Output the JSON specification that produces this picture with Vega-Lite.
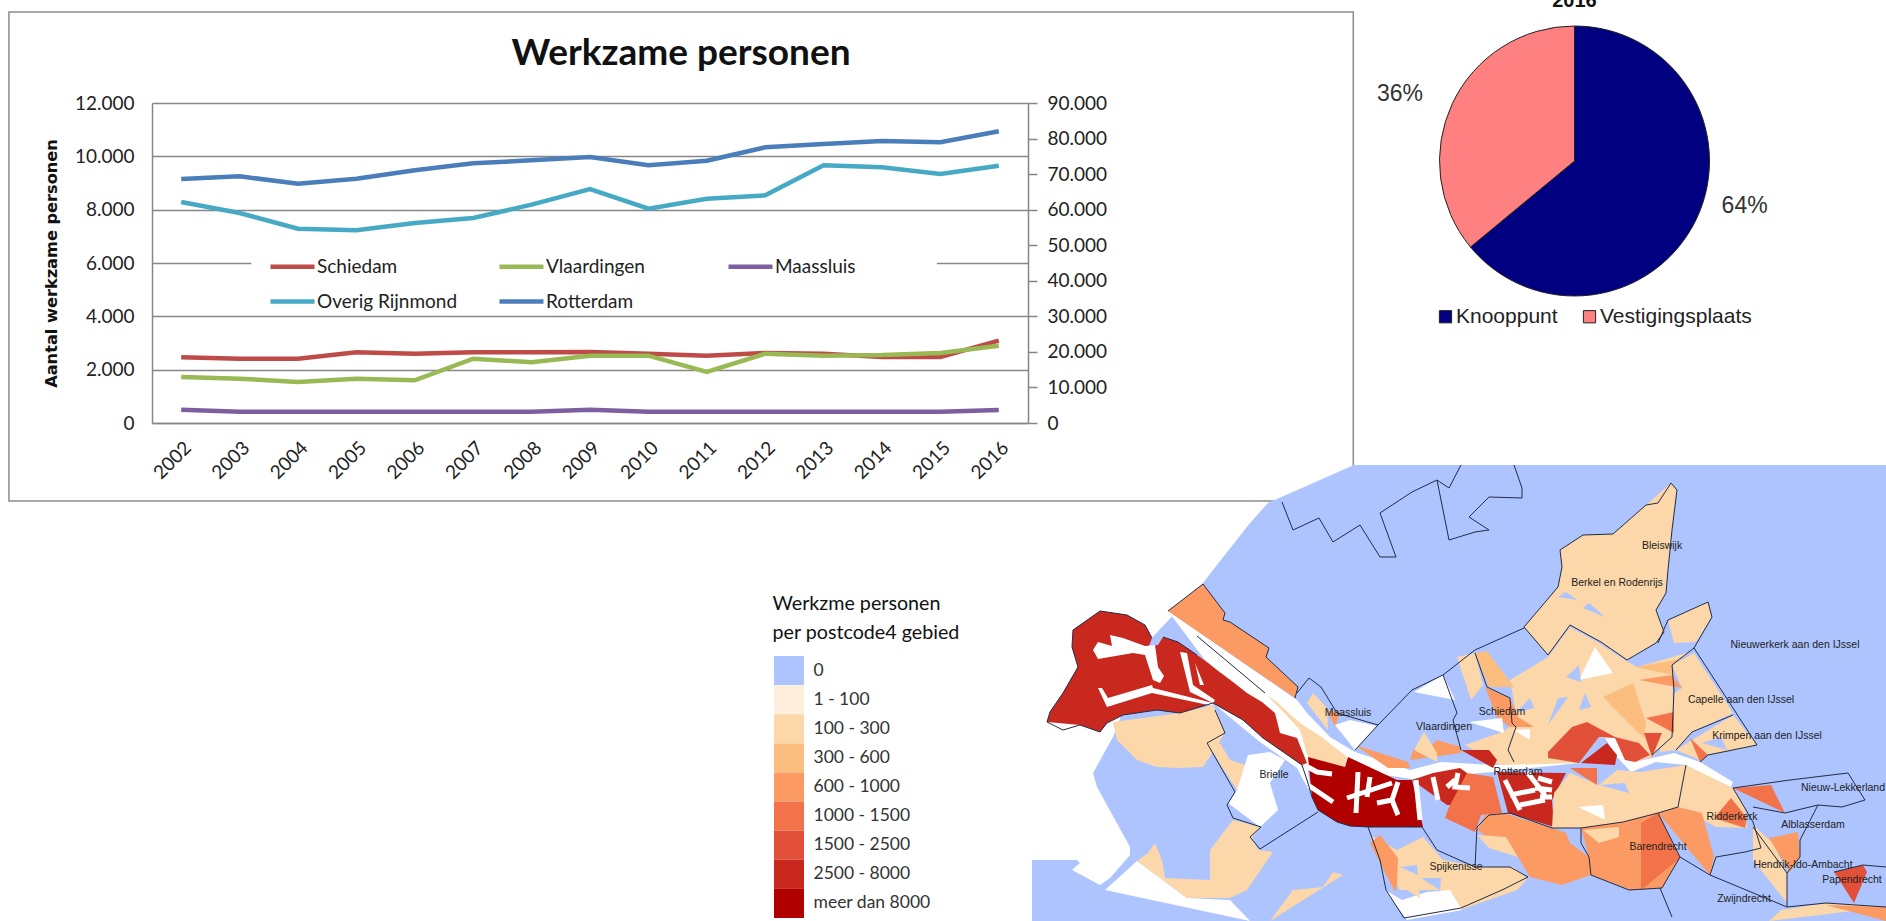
{"$schema":"https://vega.github.io/schema/vega-lite/v6.json","autosize":"none","padding":{"left":152,"top":103,"right":1734,"bottom":818},"background":"white","config":{"view":{"stroke":null},"axis":{"labelFont":"Lato","titleFont":"Lato"},"legend":{"labelFont":"Lato"},"text":{"font":"Lato"}},"bounds":"flush","align":"each","columns":2,"spacing":{"row":42,"column":2},"resolve":{"scale":{"color":"independent"}},"concat":[
{"width":876,"height":320,"data":{"values":[
{"jaar":2002,"reeks":"Schiedam","aantal":2462},{"jaar":2003,"reeks":"Schiedam","aantal":2412},{"jaar":2004,"reeks":"Schiedam","aantal":2412},{"jaar":2005,"reeks":"Schiedam","aantal":2650},{"jaar":2006,"reeks":"Schiedam","aantal":2600},{"jaar":2007,"reeks":"Schiedam","aantal":2650},{"jaar":2008,"reeks":"Schiedam","aantal":2650},{"jaar":2009,"reeks":"Schiedam","aantal":2662},{"jaar":2010,"reeks":"Schiedam","aantal":2600},{"jaar":2011,"reeks":"Schiedam","aantal":2525},{"jaar":2012,"reeks":"Schiedam","aantal":2625},{"jaar":2013,"reeks":"Schiedam","aantal":2600},{"jaar":2014,"reeks":"Schiedam","aantal":2475},{"jaar":2015,"reeks":"Schiedam","aantal":2475},{"jaar":2016,"reeks":"Schiedam","aantal":3087},
{"jaar":2002,"reeks":"Vlaardingen","aantal":1725},{"jaar":2003,"reeks":"Vlaardingen","aantal":1662},{"jaar":2004,"reeks":"Vlaardingen","aantal":1537},{"jaar":2005,"reeks":"Vlaardingen","aantal":1662},{"jaar":2006,"reeks":"Vlaardingen","aantal":1600},{"jaar":2007,"reeks":"Vlaardingen","aantal":2412},{"jaar":2008,"reeks":"Vlaardingen","aantal":2275},{"jaar":2009,"reeks":"Vlaardingen","aantal":2525},{"jaar":2010,"reeks":"Vlaardingen","aantal":2525},{"jaar":2011,"reeks":"Vlaardingen","aantal":1912},{"jaar":2012,"reeks":"Vlaardingen","aantal":2600},{"jaar":2013,"reeks":"Vlaardingen","aantal":2525},{"jaar":2014,"reeks":"Vlaardingen","aantal":2550},{"jaar":2015,"reeks":"Vlaardingen","aantal":2625},{"jaar":2016,"reeks":"Vlaardingen","aantal":2900},
{"jaar":2002,"reeks":"Maassluis","aantal":500},{"jaar":2003,"reeks":"Maassluis","aantal":425},{"jaar":2004,"reeks":"Maassluis","aantal":425},{"jaar":2005,"reeks":"Maassluis","aantal":425},{"jaar":2006,"reeks":"Maassluis","aantal":425},{"jaar":2007,"reeks":"Maassluis","aantal":425},{"jaar":2008,"reeks":"Maassluis","aantal":425},{"jaar":2009,"reeks":"Maassluis","aantal":500},{"jaar":2010,"reeks":"Maassluis","aantal":425},{"jaar":2011,"reeks":"Maassluis","aantal":425},{"jaar":2012,"reeks":"Maassluis","aantal":425},{"jaar":2013,"reeks":"Maassluis","aantal":425},{"jaar":2014,"reeks":"Maassluis","aantal":425},{"jaar":2015,"reeks":"Maassluis","aantal":425},{"jaar":2016,"reeks":"Maassluis","aantal":487},
{"jaar":2002,"reeks":"Overig Rijnmond","aantal":62156},{"jaar":2003,"reeks":"Overig Rijnmond","aantal":59062},{"jaar":2004,"reeks":"Overig Rijnmond","aantal":54656},{"jaar":2005,"reeks":"Overig Rijnmond","aantal":54187},{"jaar":2006,"reeks":"Overig Rijnmond","aantal":56250},{"jaar":2007,"reeks":"Overig Rijnmond","aantal":57656},{"jaar":2008,"reeks":"Overig Rijnmond","aantal":61406},{"jaar":2009,"reeks":"Overig Rijnmond","aantal":65812},{"jaar":2010,"reeks":"Overig Rijnmond","aantal":60281},{"jaar":2011,"reeks":"Overig Rijnmond","aantal":63094},{"jaar":2012,"reeks":"Overig Rijnmond","aantal":64031},{"jaar":2013,"reeks":"Overig Rijnmond","aantal":72469},{"jaar":2014,"reeks":"Overig Rijnmond","aantal":71906},{"jaar":2015,"reeks":"Overig Rijnmond","aantal":70031},{"jaar":2016,"reeks":"Overig Rijnmond","aantal":72375},
{"jaar":2002,"reeks":"Rotterdam","aantal":68625},{"jaar":2003,"reeks":"Rotterdam","aantal":69375},{"jaar":2004,"reeks":"Rotterdam","aantal":67312},{"jaar":2005,"reeks":"Rotterdam","aantal":68719},{"jaar":2006,"reeks":"Rotterdam","aantal":71062},{"jaar":2007,"reeks":"Rotterdam","aantal":73031},{"jaar":2008,"reeks":"Rotterdam","aantal":73875},{"jaar":2009,"reeks":"Rotterdam","aantal":74812},{"jaar":2010,"reeks":"Rotterdam","aantal":72469},{"jaar":2011,"reeks":"Rotterdam","aantal":73781},{"jaar":2012,"reeks":"Rotterdam","aantal":77531},{"jaar":2013,"reeks":"Rotterdam","aantal":78469},{"jaar":2014,"reeks":"Rotterdam","aantal":79312},{"jaar":2015,"reeks":"Rotterdam","aantal":78937},{"jaar":2016,"reeks":"Rotterdam","aantal":82031}
]},"resolve":{"scale":{"y":"independent"}},"layer":[
{"layer":[
{"data":{"values":[{}]},"mark":{"type":"rect","fill":null,"stroke":"#8c8c8c","strokeWidth":1.5},"encoding":{"x":{"datum":1999.05,"type":"quantitative","scale":{"domain":[2001.5,2016.5],"nice":false,"zero":false},"axis":{"values":[2002,2003,2004,2005,2006,2007,2008,2009,2010,2011,2012,2013,2014,2015,2016],"format":"d","title":null,"labelAngle":-45,"labelFontSize":19,"labelColor":"#222","labelPadding":15,"ticks":false,"grid":false,"domainColor":"#868686","domainWidth":1.5}},"x2":{"datum":2022.07},"y":{"datum":15412,"type":"quantitative","scale":{"domain":[0,12000],"nice":false},"axis":{"values":[0,2000,4000,6000,8000,10000,12000],"labelExpr":"replace(format(datum.value,','),',','.')","title":"Aantal werkzame personen","titleFont":"DejaVu Sans","titleFontSize":16.2,"titleFontWeight":"bold","titleColor":"#111","titlePadding":15,"labelFontSize":19,"labelColor":"#222","labelPadding":18,"ticks":false,"grid":true,"gridColor":"#868686","gridWidth":1.5,"domainColor":"#868686","domainWidth":1.5}},"y2":{"datum":-2925}}},
{"data":{"values":[{}]},"mark":{"type":"text","font":"Lato","fontSize":37,"fontWeight":"bold","color":"#111","align":"center","baseline":"middle"},"encoding":{"x":{"datum":2010.56,"type":"quantitative"},"y":{"datum":13837,"type":"quantitative"},"text":{"value":"Werkzame personen"}}},
{"data":{"values":[{}]},"mark":{"type":"rule","color":"white","strokeWidth":4},"encoding":{"x":{"datum":2003.2,"type":"quantitative"},"x2":{"datum":2014.94},"y":{"datum":6000,"type":"quantitative"}}},
{"transform":[{"filter":{"field":"reeks","oneOf":["Schiedam","Vlaardingen","Maassluis"]}}],"mark":{"type":"line","strokeWidth":4.5},"encoding":{"x":{"field":"jaar","type":"quantitative"},"y":{"field":"aantal","type":"quantitative"},"color":{"field":"reeks","type":"nominal","scale":{"domain":["Schiedam","Vlaardingen","Maassluis","Overig Rijnmond","Rotterdam"],"range":["#BE4B48","#98B954","#7D5FA0","#46AAC4","#4A7EBB"]},"legend":{"orient":"none","legendX":116,"legendY":139,"title":null,"direction":"horizontal","columns":3,"gridAlign":"all","columnPadding":32,"rowPadding":-16,"padding":0,"symbolType":"stroke","symbolSize":1936,"symbolStrokeWidth":4.5,"symbolOffset":0,"labelFont":"Lato","labelFontSize":19,"labelColor":"#222","labelOffset":0}}}}
]},
{"transform":[{"filter":{"field":"reeks","oneOf":["Overig Rijnmond","Rotterdam"]}}],"mark":{"type":"line","strokeWidth":4.5},"encoding":{"x":{"field":"jaar","type":"quantitative"},"y":{"field":"aantal","type":"quantitative","scale":{"domain":[0,90000],"nice":false},"axis":{"orient":"right","values":[0,10000,20000,30000,40000,50000,60000,70000,80000,90000],"labelExpr":"replace(format(datum.value,','),',','.')","title":null,"labelFontSize":19,"labelColor":"#222","labelPadding":10,"tickSize":9,"tickColor":"#868686","tickWidth":1.5,"grid":false,"domainColor":"#868686","domainWidth":1.5}},"color":{"field":"reeks","type":"nominal"}}}
]},
{"width":1089,"height":116,"data":{"values":[{"locatie":"Knooppunt","aandeel":64,"label":"64%"},{"locatie":"Vestigingsplaats","aandeel":36,"label":"36%"}]},"layer":[
{"mark":{"type":"arc","outerRadius":135,"stroke":"#222","strokeWidth":1},"encoding":{"theta":{"field":"aandeel","type":"quantitative","stack":true},"color":{"field":"locatie","type":"nominal","scale":{"domain":["Knooppunt","Vestigingsplaats"],"range":["#000080","#FF8080"]},"legend":{"orient":"none","legendX":405,"legendY":203,"direction":"horizontal","columns":2,"title":null,"symbolType":"square","symbolSize":150,"symbolStrokeColor":"#222","symbolStrokeWidth":1,"labelFont":"Liberation Sans","labelFontSize":21,"labelColor":"#222","labelOffset":0,"columnPadding":21}}}},
{"transform":[{"filter":"datum.locatie==='Knooppunt'"}],"mark":{"type":"text","font":"Liberation Sans","fontSize":23,"color":"#333"},"encoding":{"theta":{"value":1.83},"radius":{"value":176},"text":{"field":"label"}}},
{"transform":[{"filter":"datum.locatie==='Vestigingsplaats'"}],"mark":{"type":"text","font":"Liberation Sans","fontSize":23,"color":"#333"},"encoding":{"theta":{"value":5.08},"radius":{"value":187},"text":{"field":"label"}}},
{"data":{"values":[{}]},"mark":{"type":"text","font":"Liberation Sans","fontSize":20,"fontWeight":"bold","color":"#111"},"encoding":{"theta":{"value":0},"radius":{"value":160},"text":{"value":"2016"}}}
]},
{"width":876,"height":456,"data":{"values":[{"klasse":"0"},{"klasse":"1 - 100"},{"klasse":"100 - 300"},{"klasse":"300 - 600"},{"klasse":"600 - 1000"},{"klasse":"1000 - 1500"},{"klasse":"1500 - 2500"},{"klasse":"2500 - 8000"},{"klasse":"meer dan 8000"}]},"mark":{"type":"rect"},"encoding":{"x":{"datum":0,"type":"quantitative","scale":{"domain":[0,1],"range":[622,652]},"axis":null},"x2":{"datum":1},"y":{"field":"klasse","type":"nominal","sort":null,"scale":{"domain":["0","1 - 100","100 - 300","300 - 600","600 - 1000","1000 - 1500","1500 - 2500","2500 - 8000","meer dan 8000"],"range":[191,453],"paddingInner":0,"paddingOuter":0},"axis":{"orient":"right","offset":-225,"domain":false,"ticks":false,"labelPadding":10,"labelFont":"Lato","labelFontSize":17.5,"labelColor":"#333","title":["Werkzme personen","per postcode4 gebied"],"titleAngle":0,"titleAlign":"left","titleBaseline":"alphabetic","titleX":-31,"titleY":144,"titleFont":"Lato","titleFontSize":19.7,"titleFontWeight":"normal","titleColor":"#111","titleLineHeight":29}},"color":{"field":"klasse","type":"nominal","scale":{"domain":["0","1 - 100","100 - 300","300 - 600","600 - 1000","1000 - 1500","1500 - 2500","2500 - 8000","meer dan 8000"],"range":["#ADC4FF","#FEEEDC","#FBD7A9","#FBBE7F","#FB9A62","#F27249","#E2503A","#C9281E","#B10000"]},"legend":null}}},
{"width":856,"height":456,"projection":{"type":"identity","scale":1,"translate":[-1030,-465]},"layer":[
{"data":{"values":[
{"type":"Feature","properties":{"klasse":"0"},"geometry":{"type":"Polygon","coordinates":[[[1354,465],[1886,465],[1886,921],[1032,921],[1032,860],[1077,860],[1080,863],[1072,870],[1100,885],[1110,878],[1130,855],[1130,847],[1097,787],[1093,773],[1113,737],[1150,640],[1203,583],[1213,570],[1250,523],[1268,503],[1354,503]]]}},
{"type":"Feature","properties":{"klasse":"geen"},"geometry":{"type":"Polygon","coordinates":[[[1105,890],[1137,861],[1187,898],[1230,900],[1250,921],[1140,921]]]}},
{"type":"Feature","properties":{"klasse":"geen"},"geometry":{"type":"Polygon","coordinates":[[[1168,611],[1297,700],[1307,713],[1330,737],[1355,752],[1410,770],[1441,762],[1493,765],[1558,762],[1575,763],[1595,735],[1615,738],[1625,755],[1635,762],[1674,753],[1700,762],[1733,782],[1731,787],[1700,780],[1686,765],[1656,762],[1631,772],[1617,757],[1605,738],[1599,737],[1579,763],[1493,772],[1412,779],[1350,770],[1300,770],[1250,720],[1200,680]]]}},
{"type":"Feature","properties":{"klasse":"geen"},"geometry":{"type":"Polygon","coordinates":[[[1213,703],[1243,715],[1263,733],[1300,760],[1307,765],[1310,785],[1306,785],[1297,768],[1260,742],[1238,724],[1210,706]]]}},
{"type":"Feature","properties":{"klasse":"600 - 1000"},"geometry":{"type":"Polygon","coordinates":[[[1168,611],[1203,584],[1225,613],[1223,620],[1230,622],[1269,648],[1266,657],[1298,687],[1295,698],[1173,613]]]}},
{"type":"Feature","properties":{"klasse":"2500 - 8000"},"geometry":{"type":"Polygon","coordinates":[[[1047,722],[1050,712],[1063,693],[1078,667],[1072,647],[1073,630],[1100,611],[1127,615],[1145,625],[1152,638],[1149,646],[1158,645],[1163,637],[1178,642],[1197,655],[1207,662],[1217,670],[1233,682],[1247,693],[1262,702],[1275,713],[1280,733],[1297,738],[1307,763],[1302,765],[1263,738],[1243,720],[1213,703],[1180,713],[1157,710],[1123,715],[1107,723],[1100,732],[1080,725],[1063,730]]]}},
{"type":"Feature","properties":{"klasse":"geen"},"geometry":{"type":"Polygon","coordinates":[[[1093,650],[1098,642],[1112,646],[1110,635],[1123,638],[1145,646],[1155,645],[1158,667],[1164,676],[1160,683],[1153,680],[1145,655],[1133,653],[1098,659],[1095,655]]]}},
{"type":"Feature","properties":{"klasse":"geen"},"geometry":{"type":"Polygon","coordinates":[[[1098,688],[1102,688],[1108,698],[1152,685],[1153,688],[1213,703],[1213,706],[1152,693],[1107,707],[1103,705]]]}},
{"type":"Feature","properties":{"klasse":"geen"},"geometry":{"type":"Polygon","coordinates":[[[1180,652],[1187,653],[1193,685],[1215,700],[1213,703],[1190,692],[1187,670]]]}},
{"type":"Feature","properties":{"klasse":"geen"},"geometry":{"type":"Polygon","coordinates":[[[1195,663],[1200,685],[1204,685],[1206,663]]]}},
{"type":"Feature","properties":{"klasse":"100 - 300"},"geometry":{"type":"Polygon","coordinates":[[[1267,695],[1277,702],[1293,717],[1303,725],[1323,738],[1347,757],[1345,767],[1308,757],[1305,747],[1300,730],[1288,717],[1275,707]]]}},
{"type":"Feature","properties":{"klasse":"100 - 300"},"geometry":{"type":"Polygon","coordinates":[[[1113,722],[1117,740],[1137,760],[1157,767],[1177,768],[1203,767],[1225,733],[1217,713],[1213,705],[1180,713],[1123,715]]]}},
{"type":"Feature","properties":{"klasse":"meer dan 8000"},"geometry":{"type":"Polygon","coordinates":[[[1308,757],[1345,767],[1348,757],[1397,780],[1412,780],[1423,827],[1368,827],[1350,826],[1337,822],[1318,810],[1312,797],[1308,783]]]}},
{"type":"Feature","properties":{"klasse":"2500 - 8000"},"geometry":{"type":"Polygon","coordinates":[[[1412,780],[1433,773],[1460,768],[1467,773],[1477,805],[1447,805],[1421,812]]]}},
{"type":"Feature","properties":{"klasse":"1000 - 1500"},"geometry":{"type":"Polygon","coordinates":[[[1467,773],[1493,777],[1502,813],[1481,815],[1475,832],[1445,818],[1449,807],[1477,805]]]}},
{"type":"Feature","properties":{"klasse":"2500 - 8000"},"geometry":{"type":"Polygon","coordinates":[[[1497,772],[1566,773],[1552,800],[1554,827],[1508,813],[1506,793]]]}},
{"type":"Feature","properties":{"klasse":"600 - 1000"},"geometry":{"type":"Polygon","coordinates":[[[1477,830],[1485,815],[1504,813],[1552,828],[1566,833],[1570,843],[1589,857],[1591,875],[1562,885],[1530,877],[1518,857],[1506,837]]]}},
{"type":"Feature","properties":{"klasse":"100 - 300"},"geometry":{"type":"Polygon","coordinates":[[[1477,835],[1506,837],[1518,857],[1489,848],[1477,842]]]}},
{"type":"Feature","properties":{"klasse":"600 - 1000"},"geometry":{"type":"Polygon","coordinates":[[[1581,828],[1623,822],[1658,813],[1680,857],[1662,888],[1631,890],[1591,875],[1589,857],[1581,843]]]}},
{"type":"Feature","properties":{"klasse":"1000 - 1500"},"geometry":{"type":"Polygon","coordinates":[[[1641,890],[1641,823],[1658,813],[1680,858],[1662,888]]]}},
{"type":"Feature","properties":{"klasse":"100 - 300"},"geometry":{"type":"Polygon","coordinates":[[[1583,830],[1619,827],[1619,837],[1599,843],[1583,837]]]}},
{"type":"Feature","properties":{"klasse":"100 - 300"},"geometry":{"type":"Polygon","coordinates":[[[1678,807],[1686,765],[1733,788],[1745,807],[1747,828],[1716,827],[1702,807]]]}},
{"type":"Feature","properties":{"klasse":"600 - 1000"},"geometry":{"type":"Polygon","coordinates":[[[1658,813],[1678,807],[1702,813],[1714,857],[1710,875],[1680,857]]]}},
{"type":"Feature","properties":{"klasse":"1000 - 1500"},"geometry":{"type":"Polygon","coordinates":[[[1714,818],[1731,798],[1747,818],[1745,828],[1721,825]]]}},
{"type":"Feature","properties":{"klasse":"100 - 300"},"geometry":{"type":"Polygon","coordinates":[[[1552,828],[1554,793],[1570,773],[1599,785],[1617,770],[1640,772],[1686,765],[1678,807],[1658,813],[1623,822],[1581,828],[1566,833]]]}},
{"type":"Feature","properties":{"klasse":"0"},"geometry":{"type":"Polygon","coordinates":[[[1599,785],[1625,783],[1629,793],[1611,807]]]}},
{"type":"Feature","properties":{"klasse":"geen"},"geometry":{"type":"Polygon","coordinates":[[[1578,807],[1603,805],[1605,820],[1578,820]]]}},
{"type":"Feature","properties":{"klasse":"1000 - 1500"},"geometry":{"type":"Polygon","coordinates":[[[1570,768],[1597,768],[1597,785],[1575,780]]]}},
{"type":"Feature","properties":{"klasse":"100 - 300"},"geometry":{"type":"Polygon","coordinates":[[[1510,680],[1548,657],[1570,627],[1599,643],[1625,660],[1637,667],[1690,652],[1672,665],[1674,733],[1652,757],[1635,762],[1615,738],[1599,737],[1579,763],[1500,765],[1465,745],[1502,732],[1510,727],[1516,713],[1510,693]]]}},
{"type":"Feature","properties":{"klasse":"geen"},"geometry":{"type":"Polygon","coordinates":[[[1579,680],[1595,647],[1613,673],[1599,687]]]}},
{"type":"Feature","properties":{"klasse":"0"},"geometry":{"type":"Polygon","coordinates":[[[1566,677],[1579,665],[1581,682],[1570,683]]]}},
{"type":"Feature","properties":{"klasse":"0"},"geometry":{"type":"Polygon","coordinates":[[[1579,710],[1585,693],[1591,707],[1585,713]]]}},
{"type":"Feature","properties":{"klasse":"0"},"geometry":{"type":"Polygon","coordinates":[[[1548,725],[1558,698],[1568,697],[1566,725]]]}},
{"type":"Feature","properties":{"klasse":"0"},"geometry":{"type":"Polygon","coordinates":[[[1516,713],[1530,698],[1534,708],[1522,723]]]}},
{"type":"Feature","properties":{"klasse":"300 - 600"},"geometry":{"type":"Polygon","coordinates":[[[1603,697],[1633,683],[1646,723],[1644,738],[1627,723]]]}},
{"type":"Feature","properties":{"klasse":"300 - 600"},"geometry":{"type":"Polygon","coordinates":[[[1635,667],[1676,660],[1690,652],[1672,665],[1674,675],[1639,680]]]}},
{"type":"Feature","properties":{"klasse":"600 - 1000"},"geometry":{"type":"Polygon","coordinates":[[[1639,680],[1672,675],[1682,688],[1646,700]]]}},
{"type":"Feature","properties":{"klasse":"1000 - 1500"},"geometry":{"type":"Polygon","coordinates":[[[1646,718],[1674,712],[1674,733],[1644,733]]]}},
{"type":"Feature","properties":{"klasse":"1500 - 2500"},"geometry":{"type":"Polygon","coordinates":[[[1644,733],[1662,733],[1652,757],[1645,747]]]}},
{"type":"Feature","properties":{"klasse":"100 - 300"},"geometry":{"type":"Polygon","coordinates":[[[1672,665],[1694,653],[1733,713],[1692,732],[1676,750],[1660,752],[1662,733],[1674,733],[1674,693],[1682,688],[1674,675]]]}},
{"type":"Feature","properties":{"klasse":"100 - 300"},"geometry":{"type":"Polygon","coordinates":[[[1733,715],[1757,745],[1708,755],[1700,760],[1676,750],[1692,732]]]}},
{"type":"Feature","properties":{"klasse":"1000 - 1500"},"geometry":{"type":"Polygon","coordinates":[[[1690,738],[1708,755],[1700,762],[1676,753]]]}},
{"type":"Feature","properties":{"klasse":"geen"},"geometry":{"type":"Polygon","coordinates":[[[1729,733],[1757,745],[1733,752]]]}},
{"type":"Feature","properties":{"klasse":"0"},"geometry":{"type":"Polygon","coordinates":[[[1702,743],[1721,737],[1727,750],[1712,755]]]}},
{"type":"Feature","properties":{"klasse":"100 - 300"},"geometry":{"type":"Polygon","coordinates":[[[1671,483],[1677,490],[1672,530],[1668,570],[1666,593],[1656,610],[1664,632],[1656,643],[1627,660],[1601,642],[1570,625],[1548,655],[1524,627],[1558,587],[1562,567],[1560,550],[1583,535],[1613,534],[1646,505],[1658,503]]]}},
{"type":"Feature","properties":{"klasse":"0"},"geometry":{"type":"Polygon","coordinates":[[[1558,597],[1566,592],[1577,600],[1570,605]]]}},
{"type":"Feature","properties":{"klasse":"0"},"geometry":{"type":"Polygon","coordinates":[[[1583,608],[1589,603],[1605,617],[1603,625]]]}},
{"type":"Feature","properties":{"klasse":"100 - 300"},"geometry":{"type":"Polygon","coordinates":[[[1668,620],[1708,602],[1712,617],[1696,642],[1674,643],[1668,627]]]}},
{"type":"Feature","properties":{"klasse":"100 - 300"},"geometry":{"type":"Polygon","coordinates":[[[1457,657],[1475,653],[1483,685],[1471,700],[1463,677]]]}},
{"type":"Feature","properties":{"klasse":"300 - 600"},"geometry":{"type":"Polygon","coordinates":[[[1475,653],[1487,651],[1514,687],[1489,687],[1483,677]]]}},
{"type":"Feature","properties":{"klasse":"600 - 1000"},"geometry":{"type":"Polygon","coordinates":[[[1485,687],[1510,698],[1518,717],[1534,727],[1510,727],[1497,717],[1489,703]]]}},
{"type":"Feature","properties":{"klasse":"geen"},"geometry":{"type":"Polygon","coordinates":[[[1414,692],[1443,675],[1455,700],[1424,712]]]}},
{"type":"Feature","properties":{"klasse":"geen"},"geometry":{"type":"Polygon","coordinates":[[[1469,722],[1502,718],[1504,733],[1481,733]]]}},
{"type":"Feature","properties":{"klasse":"geen"},"geometry":{"type":"Polygon","coordinates":[[[1514,730],[1530,729],[1530,740],[1514,742]]]}},
{"type":"Feature","properties":{"klasse":"600 - 1000"},"geometry":{"type":"Polygon","coordinates":[[[1410,760],[1414,748],[1424,753],[1437,740],[1461,747],[1461,753],[1445,762]]]}},
{"type":"Feature","properties":{"klasse":"100 - 300"},"geometry":{"type":"Polygon","coordinates":[[[1414,750],[1424,732],[1437,753],[1437,762],[1412,762]]]}},
{"type":"Feature","properties":{"klasse":"2500 - 8000"},"geometry":{"type":"Polygon","coordinates":[[[1461,750],[1489,750],[1497,760],[1493,768],[1461,762]]]}},
{"type":"Feature","properties":{"klasse":"600 - 1000"},"geometry":{"type":"Polygon","coordinates":[[[1355,745],[1408,762],[1410,768],[1388,768],[1355,752]]]}},
{"type":"Feature","properties":{"klasse":"100 - 300"},"geometry":{"type":"Polygon","coordinates":[[[1307,703],[1313,693],[1327,708],[1328,730],[1317,717]]]}},
{"type":"Feature","properties":{"klasse":"600 - 1000"},"geometry":{"type":"Polygon","coordinates":[[[1327,710],[1340,713],[1335,727],[1328,730]]]}},
{"type":"Feature","properties":{"klasse":"geen"},"geometry":{"type":"Polygon","coordinates":[[[1335,725],[1350,720],[1377,726],[1355,750],[1330,733]]]}},
{"type":"Feature","properties":{"klasse":"1500 - 2500"},"geometry":{"type":"Polygon","coordinates":[[[1572,727],[1587,722],[1615,737],[1639,743],[1650,755],[1635,762],[1625,760],[1615,738],[1599,737],[1579,763],[1548,758],[1548,752],[1566,747]]]}},
{"type":"Feature","properties":{"klasse":"2500 - 8000"},"geometry":{"type":"Polygon","coordinates":[[[1562,753],[1595,747],[1579,763]]]}},
{"type":"Feature","properties":{"klasse":"2500 - 8000"},"geometry":{"type":"Polygon","coordinates":[[[1581,763],[1607,743],[1617,755],[1615,765],[1597,772]]]}},
{"type":"Feature","properties":{"klasse":"100 - 300"},"geometry":{"type":"Polygon","coordinates":[[[1753,825],[1773,843],[1787,873],[1787,903],[1753,860],[1761,847]]]}},
{"type":"Feature","properties":{"klasse":"600 - 1000"},"geometry":{"type":"Polygon","coordinates":[[[1769,838],[1798,832],[1800,857],[1790,872],[1773,850]]]}},
{"type":"Feature","properties":{"klasse":"1000 - 1500"},"geometry":{"type":"Polygon","coordinates":[[[1733,788],[1771,785],[1785,813],[1753,807]]]}},
{"type":"Feature","properties":{"klasse":"1500 - 2500"},"geometry":{"type":"Polygon","coordinates":[[[1834,872],[1863,865],[1867,872],[1854,903],[1824,903]]]}},
{"type":"Feature","properties":{"klasse":"100 - 300"},"geometry":{"type":"Polygon","coordinates":[[[1769,921],[1781,910],[1826,903],[1886,907],[1886,921]]]}},
{"type":"Feature","properties":{"klasse":"600 - 1000"},"geometry":{"type":"Polygon","coordinates":[[[1826,905],[1886,907],[1886,921],[1858,912]]]}},
{"type":"Feature","properties":{"klasse":"1000 - 1500"},"geometry":{"type":"Polygon","coordinates":[[[1676,921],[1696,912],[1696,921]]]}},
{"type":"Feature","properties":{"klasse":"100 - 300"},"geometry":{"type":"Polygon","coordinates":[[[1370,835],[1397,850],[1423,837],[1443,860],[1480,867],[1513,867],[1528,878],[1517,890],[1460,910],[1440,890],[1400,890],[1383,870]]]}},
{"type":"Feature","properties":{"klasse":"600 - 1000"},"geometry":{"type":"Polygon","coordinates":[[[1370,843],[1380,835],[1398,858],[1397,885],[1395,892],[1382,870]]]}},
{"type":"Feature","properties":{"klasse":"0"},"geometry":{"type":"Polygon","coordinates":[[[1400,867],[1417,865],[1418,875],[1407,880]]]}},
{"type":"Feature","properties":{"klasse":"0"},"geometry":{"type":"Polygon","coordinates":[[[1421,878],[1441,878],[1440,890],[1422,892]]]}},
{"type":"Feature","properties":{"klasse":"geen"},"geometry":{"type":"Polygon","coordinates":[[[1385,890],[1402,900],[1427,892],[1450,890],[1462,910],[1407,920],[1402,903]]]}},
{"type":"Feature","properties":{"klasse":"100 - 300"},"geometry":{"type":"Polygon","coordinates":[[[1402,887],[1418,877],[1420,898],[1402,893]]]}},
{"type":"Feature","properties":{"klasse":"100 - 300"},"geometry":{"type":"Polygon","coordinates":[[[1210,747],[1220,743],[1230,760],[1252,767],[1237,790],[1222,767],[1208,752]]]}},
{"type":"Feature","properties":{"klasse":"geen"},"geometry":{"type":"Polygon","coordinates":[[[1228,803],[1237,790],[1248,755],[1270,752],[1285,760],[1270,783],[1278,810],[1260,827],[1233,818]]]}},
{"type":"Feature","properties":{"klasse":"100 - 300"},"geometry":{"type":"Polygon","coordinates":[[[1233,820],[1260,827],[1252,838],[1258,850],[1273,852],[1247,890],[1230,898],[1187,898],[1137,861],[1148,853],[1155,843],[1162,860],[1165,878],[1210,880],[1210,850],[1213,842]]]}},
{"type":"Feature","properties":{"klasse":"100 - 300"},"geometry":{"type":"Polygon","coordinates":[[[1270,921],[1293,890],[1323,887],[1333,872],[1343,875],[1377,921]]]}}
]},"mark":{"type":"geoshape","stroke":null},"encoding":{"color":{"field":"properties.klasse","type":"nominal","scale":{"domain":["0","1 - 100","100 - 300","300 - 600","600 - 1000","1000 - 1500","1500 - 2500","2500 - 8000","meer dan 8000","geen"],"range":["#ADC4FF","#FEEEDC","#FBD7A9","#FBBE7F","#FB9A62","#F27249","#E2503A","#C9281E","#B10000","#FFFFFF"]},"legend":null}}},
{"data":{"values":[
{"type":"Feature","properties":{},"geometry":{"type":"MultiLineString","coordinates":[[[1308,767],[1317,772],[1332,774]],[[1308,785],[1333,802]],[[1358,772],[1356,813]],[[1347,798],[1392,783]],[[1370,777],[1367,797]],[[1377,803],[1392,800],[1398,782]],[[1392,800],[1398,815]],[[1416,780],[1420,820]],[[1433,777],[1438,800]],[[1458,773],[1455,787],[1470,788]],[[1447,787],[1455,780]],[[1505,780],[1520,810]],[[1527,772],[1545,795]],[[1510,795],[1535,790]],[[1520,805],[1545,800]],[[1538,778],[1552,782]],[[1535,788],[1552,790]],[[1540,797],[1552,797]]]}}
]},"mark":{"type":"geoshape","filled":false,"stroke":"white","strokeWidth":5}},
{"data":{"values":[
{"type":"Feature","properties":{},"geometry":{"type":"MultiLineString","coordinates":[[[1282,502],[1293,530],[1319,518],[1333,542],[1360,525],[1380,557],[1396,557],[1380,513],[1412,492],[1437,480],[1441,500],[1449,540],[1475,532],[1489,530],[1469,517],[1489,497],[1522,498],[1522,488],[1514,465]],[[1437,480],[1449,488],[1461,465]],[[1378,725],[1412,690],[1443,675],[1475,650],[1524,628]],[[1443,675],[1457,713],[1453,720],[1461,750]],[[1475,653],[1487,687],[1510,698],[1512,723],[1516,727],[1508,750],[1514,762]],[[1297,693],[1309,678],[1321,687],[1337,713],[1378,725],[1355,750]],[[1524,627],[1548,655],[1570,625],[1601,642],[1627,660],[1656,643],[1664,632],[1656,610],[1666,593],[1668,570],[1672,530],[1677,490],[1671,483],[1658,503],[1646,505],[1613,534],[1583,535],[1560,550],[1562,567],[1558,587],[1524,627]],[[1658,643],[1668,620],[1708,602],[1712,617],[1694,648],[1672,665],[1674,690],[1672,737],[1652,755]],[[1694,648],[1757,745],[1708,755],[1700,762]],[[1692,732],[1733,715]],[[1676,750],[1692,732]],[[1368,827],[1422,827],[1437,850],[1475,867],[1510,867],[1528,877],[1502,890],[1461,908],[1404,918],[1386,890],[1380,860],[1368,827]],[[1475,867],[1477,827],[1489,815],[1510,813],[1552,828],[1581,828],[1623,822],[1658,813],[1678,807],[1686,765]],[[1581,828],[1581,843],[1589,857],[1591,875],[1629,890],[1662,888],[1680,857],[1710,875],[1787,907]],[[1658,813],[1680,857]],[[1710,875],[1716,857],[1745,852],[1761,848],[1753,822],[1733,788]],[[1733,788],[1790,780],[1848,773],[1865,800],[1842,807],[1818,805],[1785,813],[1753,807]],[[1818,805],[1800,840],[1800,857],[1787,873],[1787,907]],[[1753,827],[1787,873]],[[1787,907],[1826,903],[1886,907]],[[1834,872],[1863,865],[1886,867]],[[1660,888],[1672,917]],[[1318,812],[1260,849],[1250,837],[1261,827],[1233,818],[1227,805],[1235,792],[1207,743],[1225,733],[1215,710]],[[1047,722],[1050,712],[1063,693],[1078,667],[1072,647],[1073,630],[1100,611],[1127,615],[1145,625],[1152,638]],[[1047,722],[1063,730],[1080,725],[1100,732],[1107,723],[1123,715],[1157,710],[1180,713],[1213,703]],[[1163,637],[1178,642],[1197,655]],[[1213,703],[1243,720],[1263,738],[1302,765],[1308,783],[1312,797],[1318,810],[1337,822],[1350,826],[1368,827]],[[1168,611],[1203,584],[1225,613],[1223,620],[1230,622],[1269,648],[1266,657],[1298,687],[1295,698]],[[1197,636],[1265,693]]]}}
]},"mark":{"type":"geoshape","filled":false,"stroke":"#232c45","strokeWidth":1}},
{"data":{"values":[{"plaats":"Bleiswijk","px":1662,"py":546},{"plaats":"Berkel en Rodenrijs","px":1617,"py":583},{"plaats":"Nieuwerkerk aan den IJssel","px":1795,"py":645},{"plaats":"Capelle aan den IJssel","px":1741,"py":700},{"plaats":"Krimpen aan den IJssel","px":1767,"py":736},{"plaats":"Nieuw-Lekkerland","px":1843,"py":788},{"plaats":"Ridderkerk","px":1732,"py":817},{"plaats":"Alblasserdam","px":1813,"py":825},{"plaats":"Barendrecht","px":1658,"py":847},{"plaats":"Hendrik-Ido-Ambacht","px":1803,"py":865},{"plaats":"Papendrecht","px":1852,"py":880},{"plaats":"Zwijndrecht","px":1744,"py":899},{"plaats":"Spijkenisse","px":1456,"py":867},{"plaats":"Rotterdam","px":1518,"py":772},{"plaats":"Schiedam","px":1502,"py":712},{"plaats":"Vlaardingen","px":1444,"py":727},{"plaats":"Maassluis","px":1348,"py":713},{"plaats":"Brielle","px":1274,"py":775}]},"mark":{"type":"text","font":"Liberation Sans","fontSize":10.5,"color":"#222"},"encoding":{"longitude":{"field":"px","type":"quantitative"},"latitude":{"field":"py","type":"quantitative"},"text":{"field":"plaats"}}}
]}
]}
